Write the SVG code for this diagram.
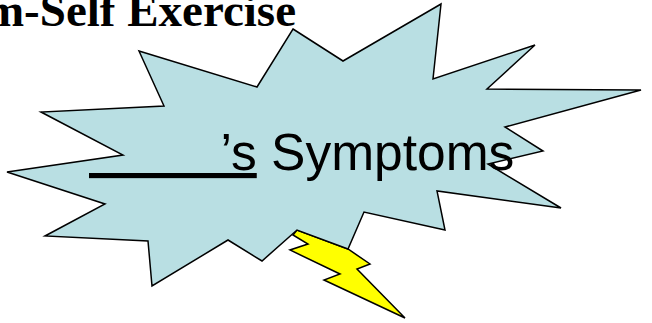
<svg xmlns="http://www.w3.org/2000/svg" width="652" height="323" viewBox="0 0 652 323">
<style>
.o{stroke:#000;stroke-width:1.5;stroke-linejoin:miter}
.t{font-family:"Liberation Serif",serif;font-weight:bold;font-size:47px;fill:#000}
.l{font-family:"Liberation Sans",Arial,sans-serif;font-size:51.5px;fill:#000}
</style>
<rect width="652" height="323" fill="#fff"/>
<g id="title"><text class="t" x="296" y="25.5" text-anchor="end">m-Self Exercise</text></g>
<g id="bolt"><polygon class="o" fill="#ffff00" points="297,230 348,249 370,264 357,269 405,318 324,280 340,274 290,250 308,244 293,235"/></g>
<g id="burst"><polygon class="o" fill="#b9dfe3" points="293,29 343,61 441,4 433,79 535,45 487,89 641,90 505,127 543,151 488,164 561,208 437,191 445,230 364,212 348,249 297,230 262,261 228,240 152,286 148,241 45,236 105,204 7,172 123,155 41,112 164,106 139,51 257,87"/></g>
<g id="label"><text class="l" x="89" y="170" xml:space="preserve"><tspan text-decoration="underline" word-spacing="0.3">         ’s</tspan> Symptoms</text></g>
</svg>
